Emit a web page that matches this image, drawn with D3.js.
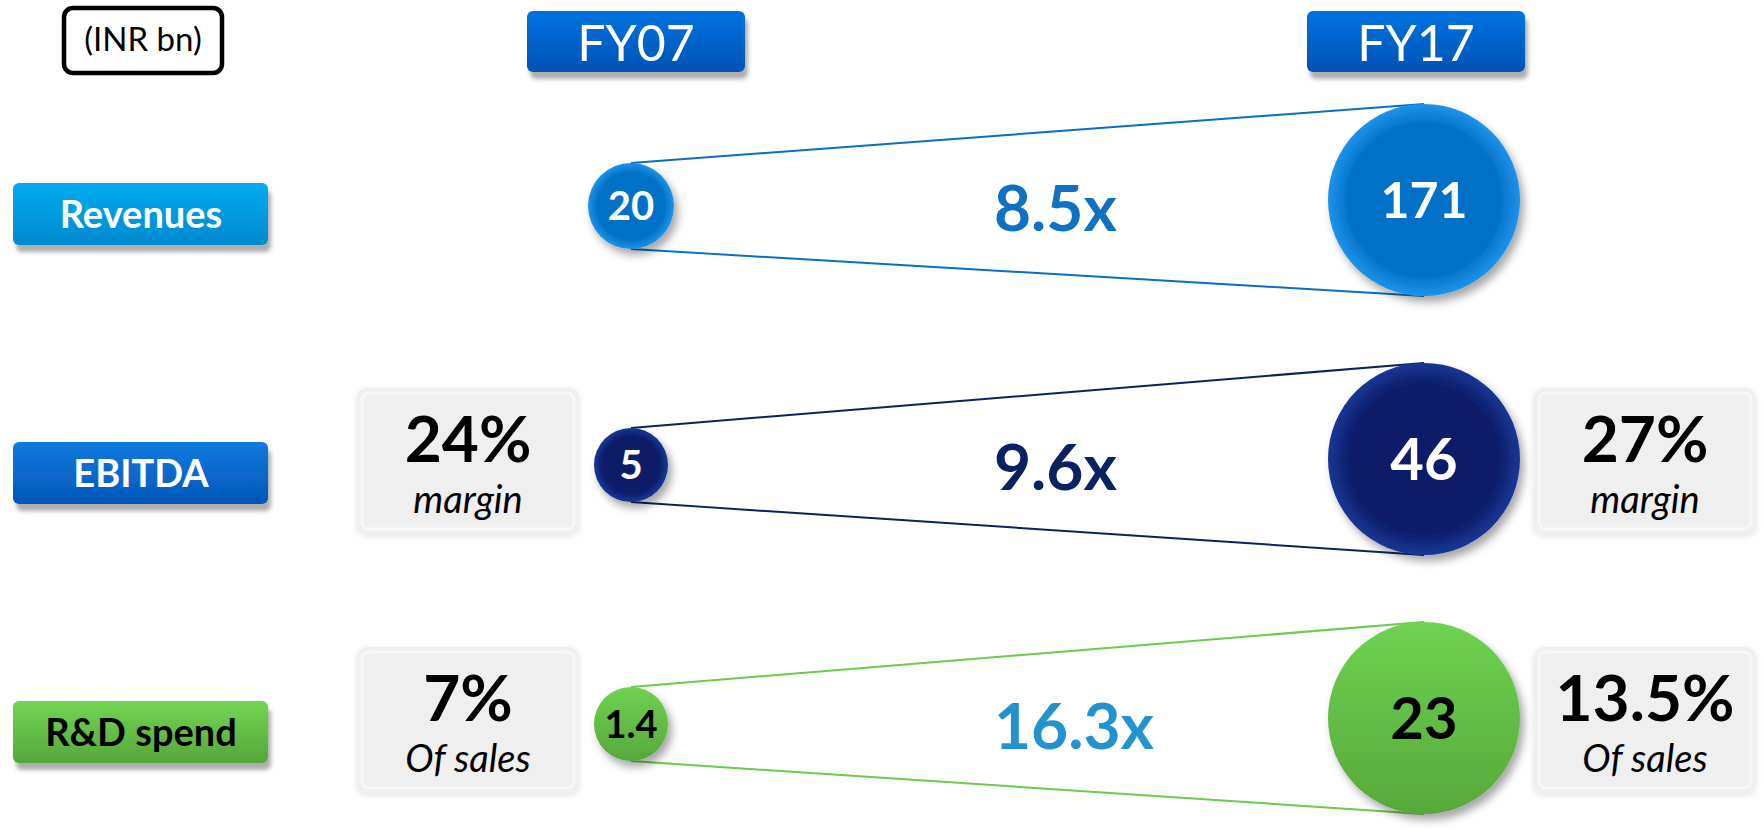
<!DOCTYPE html>
<html>
<head>
<meta charset="utf-8">
<script src="https://cdn.jsdelivr.net/npm/d3@7"></script>
<style>
  html, body { margin: 0; padding: 0; background: #ffffff; }
  #chart { width: 1764px; height: 829px; }
  text { font-family: Lato, "Open Sans", sans-serif; }
</style>
</head>
<body>
<div id="chart"></div>
<script>
// Datos (INR bn)
const periods = ["FY07", "FY17"];
const metrics = ["Revenues", "EBITDA", "R&D spend"];
const valuesFY07 = [20, 5, 1.4];
const valuesFY17 = [171, 46, 23];
const multipleLabels = ["8.5x", "9.6x", "16.3x"];
const ratioFY07 = [null, "24%", "7%"];
const ratioFY17 = [null, "27%", "13.5%"];
const ratioNotes = [null, "margin", "Of sales"];
const unitLabel = "(INR bn)";

// Colores por métrica
const theme = {
    "Revenues":  { labTop: "#05acef", labBot: "#0589cf", labText: "#ffffff",
                   cIn: "#0071c6", cOut: "#1e93ea", valText: "#ffffff",
                   line: "#0a6ec2", mult: "#1070c2" },
    "EBITDA":    { labTop: "#0a7ae0", labBot: "#0556b6", labText: "#ffffff",
                   cIn: "#0a1e69", cOut: "#1a3796", valText: "#ffffff",
                   line: "#0b225e", mult: "#0b2262" },
    "R&D spend": { labTop: "#72d553", labBot: "#56a63a", labText: "#000000",
                   cIn: "#6fd251", cOut: "#57a83b", valText: "#000000",
                   line: "#6acb4e", mult: "#2393cf" }
};

document.addEventListener('DOMContentLoaded', function() {
    const rows = metrics.map((m, i) => ({
        metric: m, idx: i,
        v07: valuesFY07[i], v17: valuesFY17[i],
        mult: multipleLabels[i],
        r07: ratioFY07[i], r17: ratioFY17[i], note: ratioNotes[i]
    }));

    const W = 1764, H = 829;
    const svg = d3.select('#chart').append('svg')
        .attr('width', W).attr('height', H)
        .attr('viewBox', `0 0 ${W} ${H}`);

    // Escalas
    const x = d3.scalePoint().domain(periods).range([631, 1424]);
    const xHead = d3.scalePoint().domain(periods).range([636, 1416]);
    const y = d3.scalePoint().domain(metrics).range([206, 724]);
    // radio: los círculos de FY07 son pequeños, los de FY17 grandes
    const rSmall = d3.scaleLinear().domain([5, 20]).range([37, 43]).clamp(true);
    const rBig = d3.scaleLinear().domain([23, 171]).range([96, 96]);
    const radius = (period, v) => period === 'FY07' ? rSmall(v) : rBig(v);
    const yBig = m => y(m) - 6;

    const defs = svg.append('defs');

    function shadow(id, dx, dy, sd, op) {
        const f = defs.append('filter').attr('id', id)
            .attr('x', '-30%').attr('y', '-30%').attr('width', '160%').attr('height', '170%');
        f.append('feDropShadow').attr('dx', dx).attr('dy', dy)
            .attr('stdDeviation', sd).attr('flood-color', '#000').attr('flood-opacity', op);
    }
    shadow('sh-box', 3, 7, 2, 0.32);
    shadow('sh-circle', 4, 6, 4, 0.35);
    shadow('sh-soft', 0, 2, 3, 0.12);

    // Degradados
    const headGrad = defs.append('linearGradient').attr('id', 'g-head')
        .attr('x1', 0).attr('y1', 0).attr('x2', 0).attr('y2', 1);
    headGrad.append('stop').attr('offset', '0%').attr('stop-color', '#0073e2');
    headGrad.append('stop').attr('offset', '100%').attr('stop-color', '#0053b3');

    rows.forEach(d => {
        const t = theme[d.metric];
        const lg = defs.append('linearGradient').attr('id', 'g-lab-' + d.idx)
            .attr('x1', 0).attr('y1', 0).attr('x2', 0).attr('y2', 1);
        lg.append('stop').attr('offset', '0%').attr('stop-color', t.labTop);
        lg.append('stop').attr('offset', '100%').attr('stop-color', t.labBot);

        if (d.metric === 'R&D spend') {
            const cg = defs.append('linearGradient').attr('id', 'g-circ-' + d.idx)
                .attr('x1', 0).attr('y1', 0).attr('x2', 0).attr('y2', 1);
            cg.append('stop').attr('offset', '0%').attr('stop-color', t.cIn);
            cg.append('stop').attr('offset', '100%').attr('stop-color', t.cOut);
        } else {
            const cg = defs.append('radialGradient').attr('id', 'g-circ-' + d.idx)
                .attr('cx', '50%').attr('cy', '50%').attr('r', '50%');
            cg.append('stop').attr('offset', '0%').attr('stop-color', t.cIn);
            cg.append('stop').attr('offset', '78%').attr('stop-color', t.cIn);
            cg.append('stop').attr('offset', '100%').attr('stop-color', t.cOut);
        }
    });

    // Caja de unidades
    svg.append('rect')
        .attr('x', 64).attr('y', 8).attr('width', 158).attr('height', 65)
        .attr('rx', 9).attr('fill', '#fff')
        .attr('stroke', '#000').attr('stroke-width', 4.5);
    svg.append('text')
        .attr('x', 143).attr('y', 51)
        .attr('text-anchor', 'middle')
        .style('font-size', '33px').style('fill', '#000')
        .text(unitLabel);

    // Encabezados de periodo
    const heads = svg.selectAll('.head').data(periods).enter()
        .append('g').attr('class', 'head');
    heads.append('rect')
        .attr('x', p => xHead(p) - 109).attr('y', 11)
        .attr('width', 218).attr('height', 61).attr('rx', 6)
        .attr('fill', 'url(#g-head)').attr('filter', 'url(#sh-box)');
    heads.append('text')
        .attr('x', p => xHead(p)).attr('y', 61)
        .attr('text-anchor', 'middle')
        .style('font-size', '50px').style('fill', '#fff')
        .text(p => p);

    // Etiquetas de fila
    const labs = svg.selectAll('.row-label').data(rows).enter()
        .append('g').attr('class', 'row-label');
    labs.append('rect')
        .attr('x', 13).attr('y', d => y(d.metric) + 8 - 31)
        .attr('width', 255).attr('height', 62).attr('rx', 6)
        .attr('fill', d => `url(#g-lab-${d.idx})`)
        .attr('filter', 'url(#sh-box)');
    labs.append('text')
        .attr('x', 141).attr('y', d => y(d.metric) + 8)
        .attr('dy', '0.36em')
        .attr('text-anchor', 'middle')
        .style('font-size', '38px').style('font-weight', 'bold')
        .style('fill', d => theme[d.metric].labText)
        .text(d => d.metric);

    // Círculos (datos)
    const circleData = [];
    rows.forEach(d => {
        circleData.push({ row: d, period: 'FY07', value: d.v07, cy: y(d.metric), r: radius('FY07', d.v07) });
        circleData.push({ row: d, period: 'FY17', value: d.v17, cy: yBig(d.metric), r: radius('FY17', d.v17) });
    });

    // Líneas de conexión
    const links = svg.selectAll('.link').data(rows).enter()
        .append('g').attr('class', 'link');
    links.append('line')
        .attr('x1', x('FY07')).attr('y1', d => y(d.metric) - radius('FY07', d.v07))
        .attr('x2', x('FY17')).attr('y2', d => yBig(d.metric) - radius('FY17', d.v17))
        .attr('stroke', d => theme[d.metric].line).attr('stroke-width', 2);
    links.append('line')
        .attr('x1', x('FY07')).attr('y1', d => y(d.metric) + radius('FY07', d.v07))
        .attr('x2', x('FY17')).attr('y2', d => yBig(d.metric) + radius('FY17', d.v17))
        .attr('stroke', d => theme[d.metric].line).attr('stroke-width', 2);

    const circles = svg.selectAll('.bubble').data(circleData).enter()
        .append('g').attr('class', 'bubble');
    circles.append('circle')
        .attr('cx', d => x(d.period)).attr('cy', d => d.cy)
        .attr('r', d => d.r)
        .attr('fill', d => `url(#g-circ-${d.row.idx})`)
        .attr('filter', 'url(#sh-circle)');
    circles.append('text')
        .attr('x', d => x(d.period)).attr('y', d => d.cy)
        .attr('dy', '0.36em')
        .attr('text-anchor', 'middle')
        .style('font-weight', 'bold')
        .style('font-size', d => {
            const s = String(d.value);
            if (d.period === 'FY07') return (s.length > 2 ? 38 : 40) + 'px';
            return (s.length > 2 ? 50 : 58) + 'px';
        })
        .style('fill', d => theme[d.row.metric].valText)
        .text(d => d.value);

    // Múltiplos
    svg.selectAll('.mult').data(rows).enter()
        .append('text').attr('class', 'mult')
        .attr('x', 994).attr('y', d => y(d.metric) + 2)
        .attr('dy', '0.36em')
        .style('font-size', '64px').style('font-weight', 'bold')
        .style('fill', d => theme[d.metric].mult)
        .text(d => d.mult);

    // Cajas de ratios
    const ratioData = [];
    rows.forEach(d => {
        if (d.r07) ratioData.push({ row: d, side: 'L', label: d.r07, cx: 468 });
        if (d.r17) ratioData.push({ row: d, side: 'R', label: d.r17, cx: 1645 });
    });
    const ratios = svg.selectAll('.ratio').data(ratioData).enter()
        .append('g').attr('class', 'ratio');
    ratios.append('rect')
        .attr('x', d => d.cx - 111).attr('y', d => y(d.row.metric) - 4 - 73)
        .attr('width', 222).attr('height', 146).attr('rx', 10)
        .attr('fill', '#efefef').attr('filter', 'url(#sh-soft)');
    ratios.append('rect')
        .attr('x', d => d.cx - 106).attr('y', d => y(d.row.metric) - 4 - 68)
        .attr('width', 212).attr('height', 136).attr('rx', 7)
        .attr('fill', 'none').attr('stroke', '#f7f7f7').attr('stroke-width', 3);
    ratios.append('text')
        .attr('x', d => d.cx).attr('y', d => y(d.row.metric) - 4 - 73 + 74)
        .attr('text-anchor', 'middle')
        .style('font-size', '64px').style('font-weight', 'bold').style('fill', '#000')
        .text(d => d.label);
    ratios.append('text')
        .attr('x', d => d.cx).attr('y', d => y(d.row.metric) - 4 - 73 + 125)
        .attr('text-anchor', 'middle')
        .style('font-size', '38px').style('font-style', 'italic').style('fill', '#000')
        .text(d => d.row.note);
});
</script>
</body>
</html>
